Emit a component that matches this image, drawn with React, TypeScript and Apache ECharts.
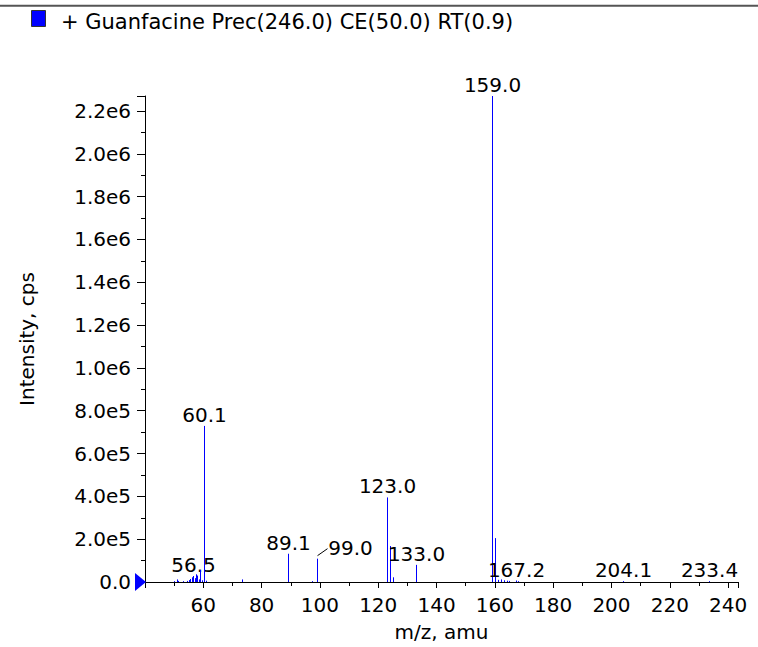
import React, { useEffect, useRef } from 'react';
import * as echarts from 'echarts';

const titleText = '+ Guanfacine Prec(246.0) CE(50.0) RT(0.9)';
const xAxisName = 'm/z, amu';
const yAxisName = 'Intensity, cps';

const xMin = 40;
const xMax = 243.4;
const xInterval = 20;
const yMin = 0;
const yMax = 2.27e6;
const yInterval = 2e5;

const peakMz = [
  50.1, 50.9, 51.4, 53.0, 54.4, 55.0, 55.5, 56.0, 56.5, 57.0, 57.5, 58.0, 58.5, 58.9, 59.5,
  60.1, 61.0, 73.1, 89.1, 97.2, 99.0, 123.0, 124.0, 125.0, 133.0,
  159.0, 160.2, 161.1, 162.0, 163.0, 164.0, 165.0, 167.2, 168.0, 204.1, 233.4,
];
const peakIntensity = [
  4e3, 1.2e4, 5e3, 4e3, 5e3, 9e3, 1.4e4, 2.2e4, 2.8e4, 1.8e4, 3.6e4, 3.0e4, 1.2e4, 5.6e4, 8e3,
  7.29e5, 6e3, 1.2e4, 1.32e5, 4e3, 1.09e5, 3.95e5, 1.68e5, 2.2e4, 8.0e4,
  2.27e6, 2.05e5, 1.0e4, 1.2e4, 8e3, 6e3, 5e3, 7e3, 4e3, 4e3, 4e3,
];
const labeledMz = [56.5, 60.1, 89.1, 99.0, 123.0, 133.0, 159.0, 167.2, 204.1, 233.4];

// layout only: horizontal shift of labels drawn with a leader line
const labelShiftX: Record<string, number> = { '99.0': 33 };

const FONT = '"DejaVu Sans", sans-serif';
const BLUE = '#0000ff';
const FS = 20;

function formatIntensity(v: number): string {
  if (v === 0) return '0.0';
  const e = Math.floor(Math.log10(v) + 1e-9);
  const m = v / Math.pow(10, e);
  return m.toFixed(1) + 'e' + e;
}

export default function App() {
  const ref = useRef<HTMLDivElement>(null);
  useEffect(() => {
    if (!ref.current) return;
    const chart = echarts.init(ref.current, undefined, { renderer: 'svg' });
    const labeledKeys = labeledMz.map((m) => m.toFixed(1));
    const option: any = {
      animation: false,
      backgroundColor: '#fff',
      grid: { left: 145, right: 20, top: 96, bottom: 62, containLabel: false },
      xAxis: {
        type: 'value',
        min: xMin,
        max: xMax,
        interval: xInterval,
        name: xAxisName,
        nameLocation: 'middle',
        nameGap: 40,
        nameTextStyle: { color: '#000', fontSize: FS, fontFamily: FONT },
        axisLine: { show: true, onZero: false, lineStyle: { color: '#000', width: 1 } },
        axisTick: { show: true, length: 6, lineStyle: { color: '#000' } },
        minorTick: { show: true, splitNumber: 2, length: 4, lineStyle: { color: '#000' } },
        splitLine: { show: false },
        minorSplitLine: { show: false },
        axisLabel: {
          color: '#000',
          fontSize: FS,
          fontFamily: FONT,
          margin: 13,
          formatter: (v: number) => (v === xMin ? '' : String(v)),
        },
      },
      yAxis: {
        type: 'value',
        min: yMin,
        max: yMax,
        interval: yInterval,
        name: yAxisName,
        nameLocation: 'middle',
        nameGap: 108,
        nameTextStyle: { color: '#000', fontSize: FS, fontFamily: FONT },
        axisLine: { show: true, onZero: false, lineStyle: { color: '#000', width: 1 } },
        axisTick: { show: true, length: 8, lineStyle: { color: '#000' } },
        minorTick: { show: true, splitNumber: 2, length: 4, lineStyle: { color: '#000' } },
        splitLine: { show: false },
        minorSplitLine: { show: false },
        axisLabel: {
          color: '#000',
          fontSize: FS,
          fontFamily: FONT,
          margin: 14,
          formatter: (v: number) => formatIntensity(v),
        },
      },
      graphic: {
        elements: [
          {
            id: 'topLine',
            type: 'line',
            shape: { x1: 0, y1: 5.8, x2: 758, y2: 5.8 },
            style: { stroke: '#555', lineWidth: 2 },
          },
          {
            id: 'legendRect',
            type: 'rect',
            shape: { x: 31.5, y: 10.5, width: 14, height: 16 },
            style: { fill: BLUE, stroke: '#333', lineWidth: 1 },
          },
          {
            id: 'legendText',
            type: 'text',
            x: 61,
            y: 21.5,
            style: {
              text: titleText,
              fill: '#000',
              fontSize: 21,
              fontFamily: FONT,
              align: 'left',
              verticalAlign: 'middle',
            },
          },
        ],
      },
      series: [
        {
          type: 'custom',
          clip: false,
          encode: { x: 0, y: 1 },
          data: peakMz.map((m, i) => [m, peakIntensity[i]]),
          renderItem: (params: any, api: any) => {
            const mz = api.value(0) as number;
            const inten = api.value(1) as number;
            const base = api.coord([mz, 0]);
            const top = api.coord([mz, inten]);
            const px = Math.round(base[0]) + 0.5;
            const children: any[] = [
              {
                type: 'line',
                shape: { x1: px, y1: base[1], x2: px, y2: top[1] },
                style: { stroke: BLUE, lineWidth: 1 },
              },
            ];
            const key = mz.toFixed(1);
            if (labeledKeys.indexOf(key) >= 0) {
              const shift = labelShiftX[key] || 0;
              children.push({
                type: 'text',
                x: px + shift,
                y: top[1] - 1,
                style: {
                  text: key,
                  fill: '#000',
                  fontSize: FS,
                  fontFamily: FONT,
                  align: 'center',
                  verticalAlign: 'bottom',
                },
              });
              if (shift) {
                children.push({
                  type: 'line',
                  shape: { x1: px, y1: top[1] - 3, x2: px + shift - 23, y2: top[1] - 10 },
                  style: { stroke: '#000', lineWidth: 1 },
                });
              }
            }
            return { type: 'group', children };
          },
        },
      ],
    };
    chart.setOption(option);
    const p = chart.convertToPixel({ gridIndex: 0 }, [xMin, yMin]) as number[];
    chart.setOption({
      graphic: {
        elements: [
          {
            id: 'origin',
            type: 'polygon',
            z: 10,
            shape: {
              points: [
                [p[0] - 10, p[1] - 9],
                [p[0] + 1, p[1]],
                [p[0] - 10, p[1] + 9],
              ],
            },
            style: { fill: BLUE },
          },
        ],
      },
    });
    return () => chart.dispose();
  }, []);
  return (
    <div
      ref={ref}
      style={{ position: 'absolute', left: 0, top: 0, width: 758, height: 647, background: '#fff' }}
    />
  );
}
